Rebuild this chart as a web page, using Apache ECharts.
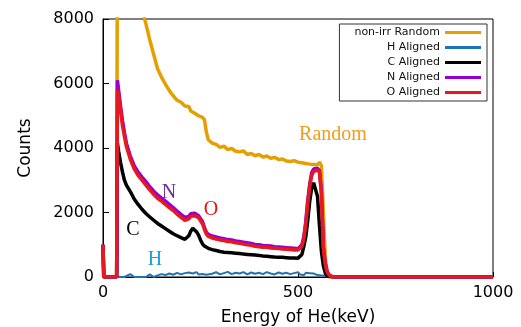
<!DOCTYPE html>
<html>
<head>
<meta charset="utf-8">
<script src="https://cdn.jsdelivr.net/npm/echarts@6/dist/echarts.min.js"></script>
<style>
  html, body { margin: 0; padding: 0; background: #fff; }
  #chart { width: 521px; height: 327px; }
</style>
</head>
<body>
<div id="chart"></div>
<script>
// energy channels (keV), shared by every spectrum
const energy = [
  0, 2, 35, 37, 40, 45, 50, 55, 60,
  70, 80, 90, 100, 110, 120, 130, 140, 150, 160,
  170, 180, 190, 200, 210, 215, 220, 225, 230, 235, 240, 245, 250,
  255, 260, 265, 270, 280, 290, 300, 310, 320, 330, 340,
  350, 360, 370, 380, 390, 400, 410, 420, 430, 440, 450,
  460, 470, 480, 490, 500, 505, 510, 515, 520, 525, 530,
  535, 540, 545, 550, 555, 560, 565, 570, 575, 580, 590, 600, 700, 800, 900, 1000
];

const randomCounts = [
  1000, 0, 0, 12000, 11800, 11400, 11000, 10600, 10200,
  9600, 9000, 8500, 8300, 7850, 7350, 6900, 6450, 6200, 5980,
  5780, 5620, 5480, 5420, 5300, 5240, 5290, 5150, 5190, 5080, 5110, 5000, 5030,
  4950, 4880, 4500, 4250, 4150, 4110, 4020, 4060, 3950, 3990, 3900,
  3880, 3910, 3800, 3830, 3760, 3800, 3720, 3750, 3680, 3710, 3640,
  3660, 3600, 3580, 3610, 3560, 3590, 3540, 3570, 3520, 3550, 3500,
  3540, 3490, 3530, 3480, 3560, 3450, 2000, 600, 100, 0, 0, 0, 0, 0, 0, 0
];

const hCounts = [
  0, 0, 0, 0, 0, 0, 0, 0, 0,
  90, 0, 0, 0, 0, 80, 0, 50, 90, 60,
  110, 70, 130, 80, 120, 60, 140, 90, 110, 70, 150, 80, 120,
  90, 140, 70, 130, 100, 150, 80, 120, 160, 90, 130,
  110, 150, 80, 140, 100, 130, 90, 150, 110, 80, 140,
  100, 130, 90, 120, 150, 80, 110, 60, 130, 90, 120,
  70, 110, 80, 60, 100, 50, 80, 40, 60, 30, 20, 0, 0, 0, 0, 0
];

const cCounts = [
  1000, 0, 0, 4150, 3900, 3550, 3250, 3000, 2850,
  2650, 2420, 2250, 2100, 1970, 1860, 1760, 1660, 1580, 1500,
  1420, 1340, 1280, 1220, 1170, 1150, 1280, 1420, 1510, 1480, 1400, 1300, 1150,
  1030, 960, 920, 890, 850, 820, 790, 770, 760, 750, 740,
  730, 710, 700, 690, 680, 670, 650, 640, 630, 620, 615,
  610, 600, 590, 590, 585, 600, 700, 950, 1250, 1750, 2350,
  2750, 2920, 2900, 2500, 1600, 800, 350, 120, 40, 0, 0, 0, 0, 0, 0, 0
];

const nCounts = [
  1000, 0, 0, 6100, 5800, 5300, 4850, 4480, 4150,
  3750, 3450, 3250, 3100, 2960, 2800, 2660, 2550, 2450, 2350,
  2250, 2150, 2040, 1940, 1850, 1800, 1880, 1960, 2000, 1980, 1950, 1900, 1860,
  1720, 1540, 1390, 1320, 1270, 1240, 1210, 1190, 1160, 1150, 1120,
  1100, 1080, 1060, 1040, 1010, 1000, 980, 970, 960, 940, 930,
  920, 910, 900, 890, 880, 900, 1000, 1250, 1720, 2380, 2880,
  3230, 3350, 3380, 3370, 3300, 2650, 950, 420, 160, 60, 0, 0, 0, 0, 0, 0
];

const oCounts = [
  1000, 0, 0, 5800, 5600, 5150, 4700, 4350, 4050,
  3650, 3350, 3150, 3000, 2850, 2700, 2560, 2440, 2350, 2250,
  2150, 2060, 1950, 1850, 1760, 1720, 1800, 1880, 1920, 1900, 1880, 1840, 1800,
  1650, 1480, 1330, 1260, 1210, 1180, 1150, 1130, 1100, 1090, 1060,
  1050, 1020, 1000, 980, 950, 940, 920, 920, 900, 890, 880,
  870, 860, 850, 840, 840, 860, 950, 1200, 1650, 2300, 2800,
  3150, 3270, 3320, 3320, 3250, 2600, 900, 400, 150, 60, 0, 0, 0, 0, 0, 0
];

const xTicks = [0, 500, 1000];
const yTicks = [0, 2000, 4000, 6000, 8000];

const seriesNames = ['non-irr Random', 'H Aligned', 'C Aligned', 'N Aligned', 'O Aligned'];
const seriesColors = ['#E69F00', '#1F74B8', '#000000', '#9400D3', '#E8191E'];
const seriesCounts = [randomCounts, hCounts, cCounts, nCounts, oCounts];

const chart = echarts.init(document.getElementById('chart'));

const font = 'DejaVu Sans';

chart.setOption({
  animation: false,
  backgroundColor: '#fff',
  grid: {
    left: 103, right: 28, top: 19, bottom: 50,
    show: true, borderColor: '#000', borderWidth: 1,
    outerBoundsMode: 'none'
  },
  legend: {
    data: seriesNames,
    orient: 'vertical',
    align: 'right',
    right: 34, top: 24,
    icon: 'rect',
    itemWidth: 36, itemHeight: 3,
    itemGap: 4,
    padding: [3, 6, 3, 15],
    borderColor: '#333', borderWidth: 1,
    backgroundColor: '#fff',
    textStyle: { fontFamily: font, fontSize: 11, color: '#111' }
  },
  xAxis: {
    type: 'value',
    min: xTicks[0], max: xTicks[xTicks.length - 1], interval: 500,
    name: 'Energy of He(keV)',
    nameLocation: 'middle', nameGap: 32,
    nameTextStyle: { fontFamily: font, fontSize: 17, color: '#000' },
    axisLine: { lineStyle: { color: '#000' } },
    axisTick: { inside: true, length: 5, lineStyle: { color: '#000' } },
    axisLabel: { fontFamily: font, fontSize: 16, color: '#000', margin: 8, formatter: v => String(v) },
    splitLine: { show: false }
  },
  yAxis: {
    type: 'value',
    min: yTicks[0], max: yTicks[yTicks.length - 1], interval: 2000,
    name: 'Counts',
    nameLocation: 'middle', nameGap: 69,
    nameTextStyle: { fontFamily: font, fontSize: 17, color: '#000' },
    axisLine: { show: true, lineStyle: { color: '#000' } },
    axisTick: { show: true, inside: true, length: 6, lineStyle: { color: '#000' } },
    axisLabel: { fontFamily: font, fontSize: 16, color: '#000', margin: 9, formatter: v => String(v) },
    splitLine: { show: false }
  },
  series: seriesNames.map((name, i) => ({
    name: name,
    type: 'line',
    data: energy.map((e, j) => [e, seriesCounts[i][j]]),
    showSymbol: false,
    symbol: 'none',
    clip: true,
    color: seriesColors[i],
    lineStyle: { color: seriesColors[i], width: i === 1 ? 2 : 3.5 }
  })),
  graphic: [
    { type: 'text', x: 333, y: 135, style: { text: 'Random', fill: '#EE9E1C', font: '20px "Liberation Serif"', align: 'center', verticalAlign: 'middle' } },
    { type: 'text', x: 169, y: 193, style: { text: 'N', fill: '#7030A0', font: '20px "Liberation Serif"', align: 'center', verticalAlign: 'middle' } },
    { type: 'text', x: 211, y: 210, style: { text: 'O', fill: '#E8141A', font: '20px "Liberation Serif"', align: 'center', verticalAlign: 'middle' } },
    { type: 'text', x: 133, y: 230, style: { text: 'C', fill: '#000', font: '20px "Liberation Serif"', align: 'center', verticalAlign: 'middle' } },
    { type: 'text', x: 155, y: 260, style: { text: 'H', fill: '#1AA0DC', font: '20px "Liberation Serif"', align: 'center', verticalAlign: 'middle' } }
  ]
});
</script>
</body>
</html>
